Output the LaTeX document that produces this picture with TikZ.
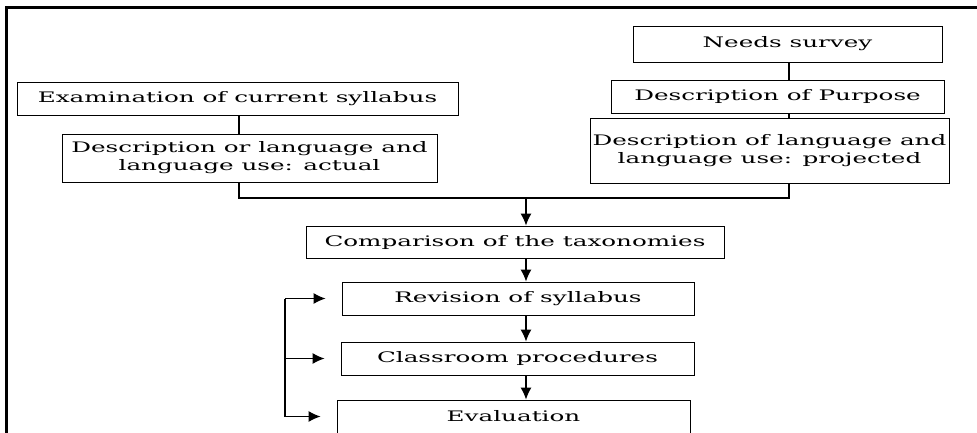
\documentclass[tikz,border=0pt]{standalone}
\usepackage{fontspec}
\setmainfont{DejaVu Serif}[FakeStretch=1.7]
\usepackage{tikz}
\usetikzlibrary{arrows.meta,calc}
\tikzset{
  font=\fontsize{14.5}{18}\selectfont,
  >={Latex[length=12pt,width=11pt]},
  box/.style={draw=black, line width=0.8pt, inner sep=0pt, align=center},
  link/.style={draw=black, line width=1.3pt},
  frame/.style={draw=black, line width=3pt},
}
\begin{document}
\begin{tikzpicture}[x=1pt,y=-1pt]
\useasboundingbox (0,0) rectangle (977,433);
% outer frame (top and left only)
\draw[frame] (6,433) -- (6,8) -- (977,8);
% right column
\node[box, minimum width=309, minimum height=36] (needs) at (787.5,44) {Needs survey};
\node[box, minimum width=333, minimum height=33] (purpose) at (777.5,96.5) {Description of Purpose};
\node[box, minimum width=359, minimum height=65] (projected) at (769.5,150.5) {Description of language and\\language use: projected};
% left column
\node[box, minimum width=441, minimum height=33] (exam) at (237.5,98.5) {Examination of current syllabus};
\node[box, minimum width=375, minimum height=48] (actual) at (249.5,158) {Description or language and\\language use: actual};
% centre column
\node[box, minimum width=418, minimum height=32] (compare) at (515,242) {Comparison of the taxonomies};
\node[box, minimum width=352, minimum height=33] (revision) at (518,298.5) {Revision of syllabus};
\node[box, minimum width=353, minimum height=33] (classroom) at (517.5,358.5) {Classroom procedures};
\node[box, minimum width=353, minimum height=33] (evaluation) at (513.5,416.5) {Evaluation};
% joins
\coordinate (lx) at (239,198);
\coordinate (rx) at (789,198);
\coordinate (join) at (526,198);
\coordinate (fb) at (285,0);
\draw[link] (needs.south -| rx) -- (purpose.north -| rx);
\draw[link] (purpose.south -| rx) -- (projected.north -| rx);
\draw[link] (exam.south -| lx) -- (actual.north -| lx);
\draw[link] (actual.south -| lx) -- (lx) -- (rx) -- (projected.south -| rx);
\draw[link,->] (join) -- (compare.north -| join);
\draw[link,->] (compare.south -| join) -- (revision.north -| join);
\draw[link,->] (revision.south -| join) -- (classroom.north -| join);
\draw[link,->] (classroom.south -| join) -- (evaluation.north -| join);
% feedback
\draw[link] (fb |- revision) -- (fb |- evaluation);
\foreach \n in {revision,classroom,evaluation}
  \draw[link,->,shorten >=16pt] (fb |- \n) -- (\n.west);
\end{tikzpicture}
\end{document}
